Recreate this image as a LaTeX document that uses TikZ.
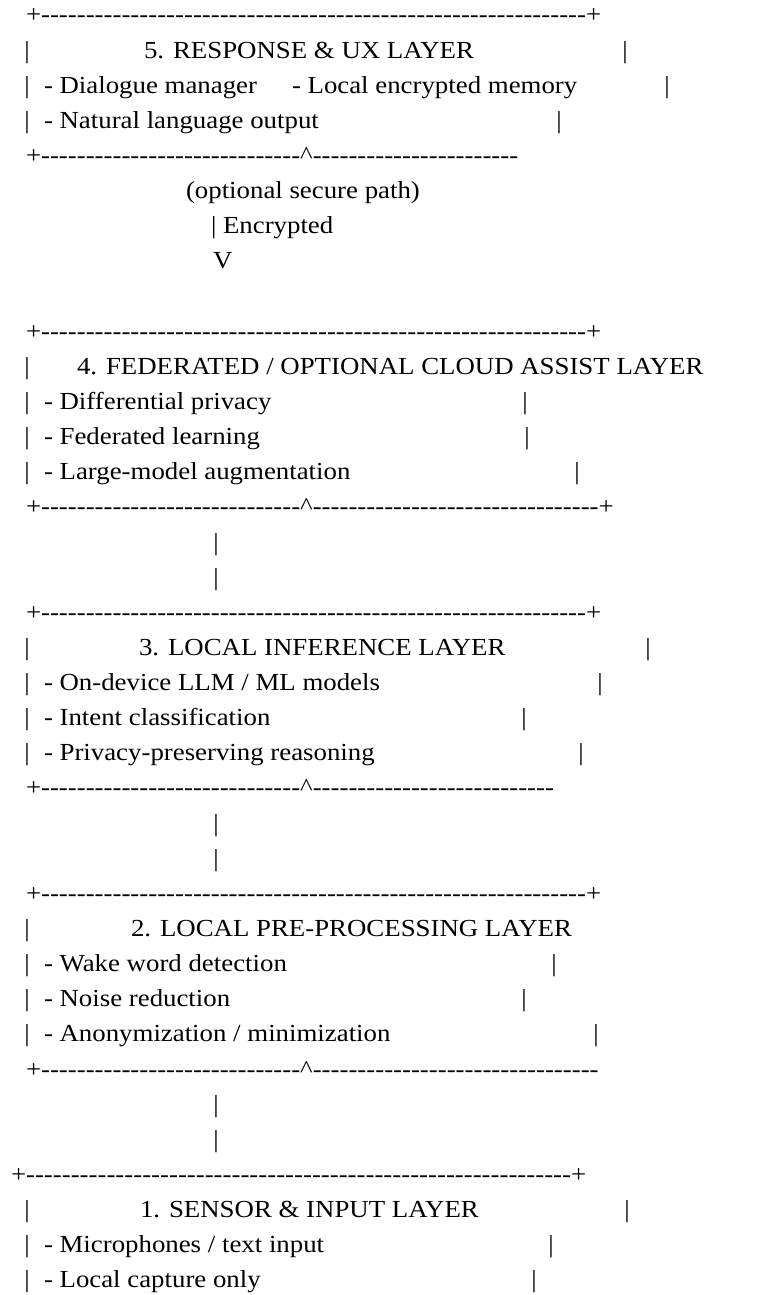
\documentclass[tikz,border=0pt]{standalone}
\usepackage{fontspec}
\setmainfont{Liberation Serif}[Ligatures=TeXOff, FakeStretch=1.095]
\ExplSyntaxOn
\NewDocumentCommand\dsh{m}{\prg_replicate:nn{#1}{-}}
\ExplSyntaxOff
\newcommand\yl[1]{{-22.9-35.14*(#1-1)}}
\newcommand\crt{\textasciicircum}
\tikzset{
  txt/.style={anchor=base west, inner sep=0pt, outer sep=0pt, font=\fontsize{24.5}{30}\selectfont},
  vbar/.style={anchor=base, inner sep=0pt, outer sep=0pt, font=\fontsize{24.5}{30}\selectfont},
}
\begin{document}
\begin{tikzpicture}[x=1pt,y=1pt]
\useasboundingbox (0,0) rectangle (775,-1295);
% layer 5
\node[txt] (t1) at (26,\yl{1}) {+\dsh{61}+};
\node[vbar] (l2a) at (27,\yl{2}) {|};
\node[txt] (h5) at (144,\yl{2}) {5. RESPONSE \& UX LAYER};
\node[vbar] (l2b) at (625,\yl{2}) {|};
\node[vbar] (l3a) at (27,\yl{3}) {|};
\node[txt] (i5a) at (44,\yl{3}) {- Dialogue manager};
\node[txt] (i5b) at (292,\yl{3}) {- Local encrypted memory};
\node[vbar] (l3b) at (667,\yl{3}) {|};
\node[vbar] (l4a) at (27,\yl{4}) {|};
\node[txt] (i5c) at (44,\yl{4}) {- Natural language output};
\node[vbar] (l4b) at (559,\yl{4}) {|};
\node[txt] (b5) at (26,\yl{5}) {+\dsh{29}\crt\dsh{23}};
\node[txt] (opt) at (186,\yl{6}) {(optional secure path)};
\node[txt] (enc) at (211,\yl{7}) {| Encrypted};
\node[txt] (vv) at (213,\yl{8}) {V};
% layer 4
\node[txt] (t4) at (26,\yl{10}) {+\dsh{61}+};
\node[vbar] (l11a) at (27,\yl{11}) {|};
\node[txt] (h4) at (77,\yl{11}) {4. FEDERATED / OPTIONAL CLOUD ASSIST LAYER};
\node[vbar] (l12a) at (27,\yl{12}) {|};
\node[txt] (i4a) at (44,\yl{12}) {- Differential privacy};
\node[vbar] (l12b) at (525,\yl{12}) {|};
\node[vbar] (l13a) at (27,\yl{13}) {|};
\node[txt] (i4b) at (44,\yl{13}) {- Federated learning};
\node[vbar] (l13b) at (527,\yl{13}) {|};
\node[vbar] (l14a) at (27,\yl{14}) {|};
\node[txt] (i4c) at (44,\yl{14}) {- Large-model augmentation};
\node[vbar] (l14b) at (577,\yl{14}) {|};
\node[txt] (b4) at (26,\yl{15}) {+\dsh{29}\crt\dsh{32}+};
\node[vbar] (c16) at (216,\yl{16}) {|};
\node[vbar] (c17) at (216,\yl{17}) {|};
% layer 3
\node[txt] (t3) at (26,\yl{18}) {+\dsh{61}+};
\node[vbar] (l19a) at (27,\yl{19}) {|};
\node[txt] (h3) at (139,\yl{19}) {3. LOCAL INFERENCE LAYER};
\node[vbar] (l19b) at (648,\yl{19}) {|};
\node[vbar] (l20a) at (27,\yl{20}) {|};
\node[txt] (i3a) at (44,\yl{20}) {- On-device LLM / ML models};
\node[vbar] (l20b) at (600,\yl{20}) {|};
\node[vbar] (l21a) at (27,\yl{21}) {|};
\node[txt] (i3b) at (44,\yl{21}) {- Intent classification};
\node[vbar] (l21b) at (524,\yl{21}) {|};
\node[vbar] (l22a) at (27,\yl{22}) {|};
\node[txt] (i3c) at (44,\yl{22}) {- Privacy-preserving reasoning};
\node[vbar] (l22b) at (581,\yl{22}) {|};
\node[txt] (b3) at (26,\yl{23}) {+\dsh{29}\crt\dsh{27}};
\node[vbar] (c24) at (216,\yl{24}) {|};
\node[vbar] (c25) at (216,\yl{25}) {|};
% layer 2
\node[txt] (t2) at (26,\yl{26}) {+\dsh{61}+};
\node[vbar] (l27a) at (27,\yl{27}) {|};
\node[txt] (h2) at (131,\yl{27}) {2. LOCAL PRE-PROCESSING LAYER};
\node[vbar] (l28a) at (27,\yl{28}) {|};
\node[txt] (i2a) at (44,\yl{28}) {- Wake word detection};
\node[vbar] (l28b) at (554,\yl{28}) {|};
\node[vbar] (l29a) at (27,\yl{29}) {|};
\node[txt] (i2b) at (44,\yl{29}) {- Noise reduction};
\node[vbar] (l29b) at (524,\yl{29}) {|};
\node[vbar] (l30a) at (27,\yl{30}) {|};
\node[txt] (i2c) at (44,\yl{30}) {- Anonymization / minimization};
\node[vbar] (l30b) at (596,\yl{30}) {|};
\node[txt] (b2) at (26,\yl{31}) {+\dsh{29}\crt\dsh{32}};
\node[vbar] (c32) at (216,\yl{32}) {|};
\node[vbar] (c33) at (216,\yl{33}) {|};
% layer 1
\node[txt] (t1b) at (11,\yl{34}) {+\dsh{61}+};
\node[vbar] (l35a) at (27,\yl{35}) {|};
\node[txt] (h1) at (140,\yl{35}) {1. SENSOR \& INPUT LAYER};
\node[vbar] (l35b) at (627,\yl{35}) {|};
\node[vbar] (l36a) at (27,\yl{36}) {|};
\node[txt] (i1a) at (44,\yl{36}) {- Microphones / text input};
\node[vbar] (l36b) at (551,\yl{36}) {|};
\node[vbar] (l37a) at (27,\yl{37}) {|};
\node[txt] (i1b) at (44,\yl{37}) {- Local capture only};
\node[vbar] (l37b) at (534,\yl{37}) {|};
\end{tikzpicture}
\end{document}
